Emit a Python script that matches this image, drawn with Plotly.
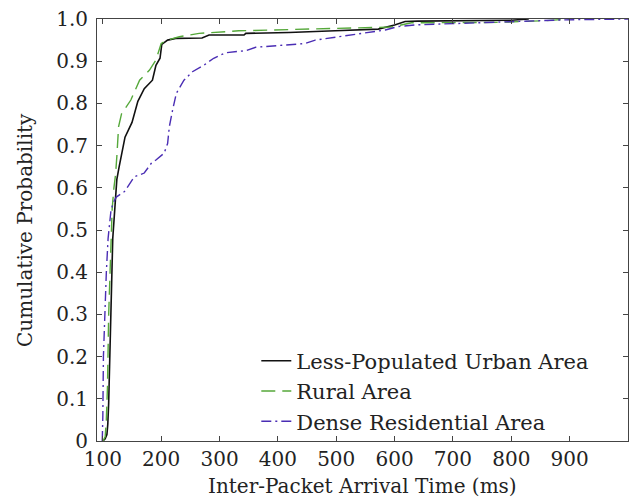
import plotly.graph_objects as go

# Less-Populated Urban Area
urban_x = [100, 104, 107, 108.5, 110, 112, 113.5, 115, 117, 121, 124, 128, 132, 138, 150, 160, 171, 185, 191, 198, 201, 211, 225, 270, 282, 342, 345, 419, 498, 572, 600, 618, 640, 800, 830]
urban_y = [0, 0.005, 0.015, 0.04, 0.09, 0.21, 0.33, 0.42, 0.48, 0.56, 0.62, 0.65, 0.68, 0.72, 0.755, 0.805, 0.835, 0.855, 0.89, 0.907, 0.94, 0.95, 0.954, 0.955, 0.962, 0.962, 0.966, 0.968, 0.972, 0.976, 0.986, 0.994, 0.995, 0.997, 1.0]

# Rural Area
rural_x = [100, 104, 106, 108, 110, 112, 114, 116, 119, 121.7, 124, 127, 132, 136, 148, 155, 163, 180, 191, 200, 210, 231, 265, 333, 436, 543, 595, 629, 703, 777, 860, 900]
rural_y = [0, 0.01, 0.05, 0.13, 0.3, 0.4, 0.47, 0.55, 0.6, 0.63, 0.674, 0.745, 0.775, 0.784, 0.808, 0.83, 0.855, 0.879, 0.903, 0.942, 0.95, 0.958, 0.966, 0.972, 0.976, 0.98, 0.981, 0.991, 0.991, 0.992, 0.996, 1.0]

# Dense Residential Area
dense_x = [99, 100, 101, 103, 106, 109, 114, 118, 123, 137, 154, 171, 183, 191, 205, 211, 214, 219.5, 226, 239, 253.6, 273.5, 290, 310, 345, 362, 413, 447, 464, 504, 584, 606, 635, 720, 805, 891, 1000]
dense_y = [0, 0.06, 0.2, 0.3, 0.4, 0.48, 0.547, 0.565, 0.578, 0.591, 0.626, 0.635, 0.658, 0.666, 0.682, 0.705, 0.745, 0.784, 0.824, 0.855, 0.875, 0.891, 0.907, 0.92, 0.925, 0.933, 0.938, 0.942, 0.95, 0.958, 0.974, 0.982, 0.986, 0.99, 0.994, 0.998, 1.0]

x_ticks = [100, 200, 300, 400, 500, 600, 700, 800, 900]
y_ticks = [0, 0.1, 0.2, 0.3, 0.4, 0.5, 0.6, 0.7, 0.8, 0.9, 1.0]
y_ticktext = ["0", "0.1", "0.2", "0.3", "0.4", "0.5", "0.6", "0.7", "0.8", "0.9", "1.0"]

x_title = "Inter-Packet Arrival Time (ms)"
y_title = "Cumulative Probability"

FONT = "DejaVu Serif"
FS = 20
TXT = "#222222"

fig = go.Figure()
fig.add_trace(go.Scatter(x=urban_x, y=urban_y, mode="lines", name="Less-Populated Urban Area",
                         line=dict(color="#111111", width=1.6)))
fig.add_trace(go.Scatter(x=rural_x, y=rural_y, mode="lines", name="Rural Area",
                         line=dict(color="#55a83a", width=1.4, dash="14px,7px")))
fig.add_trace(go.Scatter(x=dense_x, y=dense_y, mode="lines", name="Dense Residential Area",
                         line=dict(color="#4a2db4", width=1.4, dash="10px,4px,2px,4px")))

axis_common = dict(showline=True, linecolor="#444444", linewidth=1, mirror="ticks",
                   ticks="inside", ticklen=5, tickcolor="#444444", showgrid=False,
                   zeroline=False, automargin=False,
                   tickfont=dict(family=FONT, size=FS, color=TXT))

fig.update_layout(
    width=634, height=498,
    margin=dict(l=97, r=6, t=19, b=57),
    paper_bgcolor="white", plot_bgcolor="white",
    font=dict(family=FONT, size=FS, color=TXT),
    xaxis=dict(range=[90, 1000], tickvals=x_ticks, **axis_common),
    yaxis=dict(range=[0, 1.0], tickvals=y_ticks, ticktext=y_ticktext,
               ticklabelstandoff=4, **axis_common),
    legend=dict(x=0.30, y=0.238, xanchor="left", yanchor="top",
                bgcolor="rgba(255,255,255,0)", borderwidth=0,
                font=dict(family=FONT, size=21, color=TXT),
                tracegroupgap=0, itemwidth=30),
    showlegend=True,
    annotations=[
        dict(text=x_title, xref="paper", yref="paper", x=0.5, y=0, yshift=-45,
             xanchor="center", yanchor="middle", showarrow=False,
             font=dict(family=FONT, size=FS, color=TXT)),
        dict(text=y_title, xref="paper", yref="paper", x=0, y=0.5, xshift=-72,
             xanchor="center", yanchor="middle", textangle=-90, showarrow=False,
             font=dict(family=FONT, size=FS, color=TXT)),
    ],
)

fig.write_html("out.html", config={"displayModeBar": False},
               post_script="document.body.style.margin='0';document.body.style.overflow='hidden';")
